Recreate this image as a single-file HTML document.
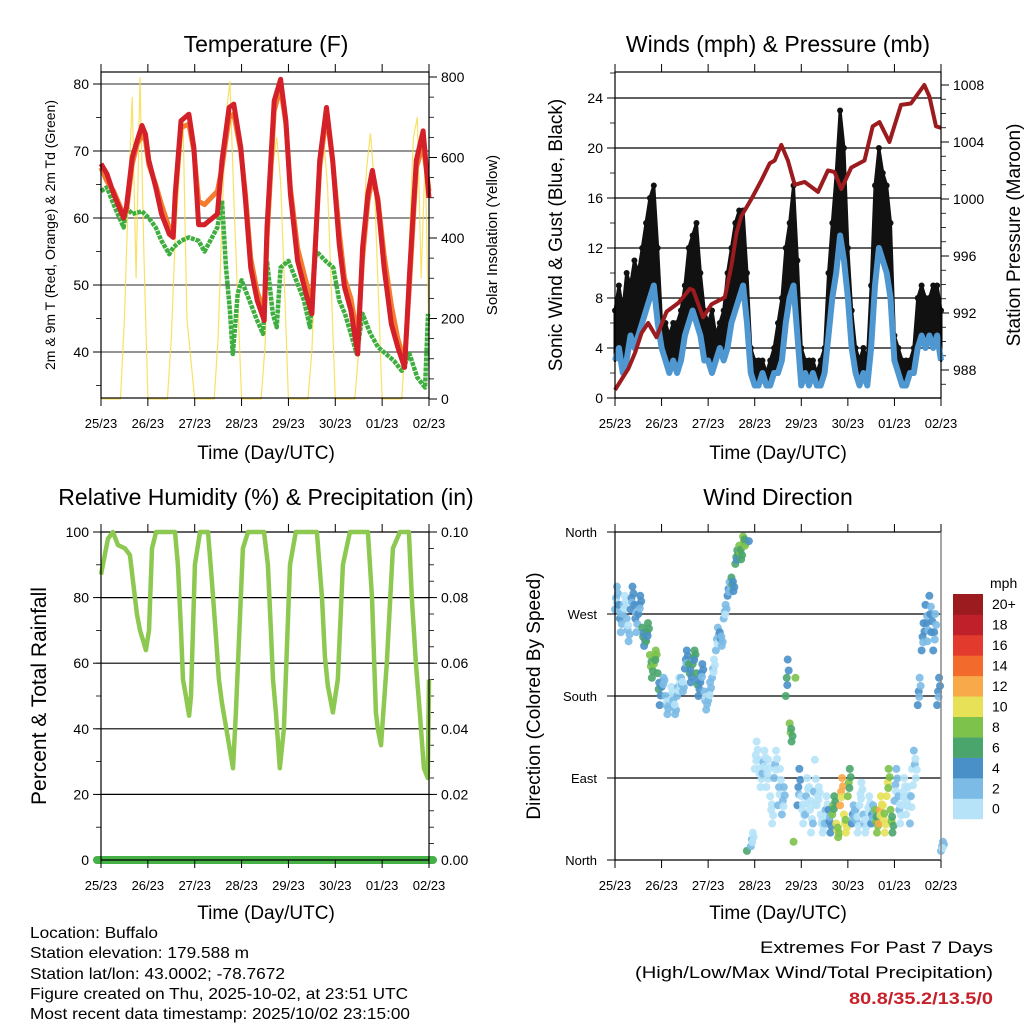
<!DOCTYPE html>
<html><head><meta charset="utf-8"><style>
html,body{margin:0;padding:0;background:#fff}
svg{display:block;font-family:"Liberation Sans",sans-serif}
</style></head><body>
<svg id="chart" width="1024" height="1024" viewBox="0 0 1024 1024">
<g id="static">
<text x="266" y="52" font-size="23" text-anchor="middle">Temperature (F)</text>
<text x="778" y="52" font-size="23" text-anchor="middle">Winds (mph) &amp; Pressure (mb)</text>
<text x="266" y="505" font-size="23" text-anchor="middle">Relative Humidity (%) &amp; Precipitation (in)</text>
<text x="778" y="505" font-size="23" text-anchor="middle">Wind Direction</text>
<text x="266" y="459" font-size="19" text-anchor="middle">Time (Day/UTC)</text>
<text x="778" y="459" font-size="19" text-anchor="middle">Time (Day/UTC)</text>
<text x="266" y="919" font-size="19" text-anchor="middle">Time (Day/UTC)</text>
<text x="778" y="919" font-size="19" text-anchor="middle">Time (Day/UTC)</text>
<text transform="translate(55,235) rotate(-90)" font-size="14" text-anchor="middle">2m &amp; 9m T (Red, Orange) &amp; 2m Td (Green)</text>
<text transform="translate(497,235) rotate(-90)" font-size="15" text-anchor="middle">Solar Insolation (Yellow)</text>
<text transform="translate(562,235) rotate(-90)" font-size="19" text-anchor="middle">Sonic Wind &amp; Gust (Blue, Black)</text>
<text transform="translate(1020,235) rotate(-90)" font-size="19" text-anchor="middle">Station Pressure (Maroon)</text>
<text transform="translate(46,696) rotate(-90)" font-size="21" text-anchor="middle">Percent &amp; Total Rainfall</text>
<text transform="translate(540,696) rotate(-90)" font-size="19" text-anchor="middle">Direction (Colored By Speed)</text>
<text x="990" y="588" font-size="14">mph</text>
<g font-size="16">
<text x="30" y="938" textLength="128" lengthAdjust="spacingAndGlyphs">Location: Buffalo</text>
<text x="30" y="958" textLength="219" lengthAdjust="spacingAndGlyphs">Station elevation: 179.588 m</text>
<text x="30" y="979" textLength="255" lengthAdjust="spacingAndGlyphs">Station lat/lon: 43.0002; -78.7672</text>
<text x="30" y="999" textLength="378" lengthAdjust="spacingAndGlyphs">Figure created on Thu, 2025-10-02, at 23:51 UTC</text>
<text x="30" y="1019" textLength="380" lengthAdjust="spacingAndGlyphs">Most recent data timestamp: 2025/10/02 23:15:00</text>
</g>
<text x="760" y="953" font-size="17" textLength="233" lengthAdjust="spacingAndGlyphs">Extremes For Past 7 Days</text>
<text x="635" y="978" font-size="17" textLength="358" lengthAdjust="spacingAndGlyphs">(High/Low/Max Wind/Total Precipitation)</text>
<text x="849" y="1004" font-size="17" font-weight="bold" fill="#c8202a" textLength="144" lengthAdjust="spacingAndGlyphs">80.8/35.2/13.5/0</text>
</g>
</svg>
<script>
// ---------- data ----------
const dayLabels = ["25/23","26/23","27/23","28/23","29/23","30/23","01/23","02/23"];
const tempHours = [0,3,6.5,11.6,13,16,18.5,21,22.8,24.5,28,31,35,37,38,41,45,47.6,50,53,59.6,62,65.6,68,71.6,74,76.7,80,83.6,85,88.7,92,94.7,97,100.7,105,108,112,115.5,118.7,122,124.7,128,131.5,134,136.7,139,141.8,145,148.7,152,155.5,158,161.5,165,168];
const temp9m = [68.1,66.6,63.6,60,61.6,69,71.5,73.8,72.5,68.6,64.6,60.6,57.6,57.1,63.6,74.5,75.5,70.5,59,59,60.6,68.6,76.5,77,70.5,62.6,52.6,47.7,44.7,58.6,77.5,80.7,74.5,63.6,53.6,48.7,45.7,68.6,76.5,68.6,56.1,49.7,46.2,39.7,55.6,63.6,67.1,62.6,52.6,44.2,40.7,37.7,51.6,68.6,73,63];
const temp2m = [67.5,65.5,64,60.5,61,68,71,72.5,71.5,68,65,62,58.5,58,63,73.5,74,70,62.5,62,64,67.5,75,75.5,70,63.5,54,49,46,57,76,79.5,74,64.5,55.5,50.5,47,67.5,75.5,68.5,58,51,48,42,54,62.5,66,63,54.5,47,42,38.5,50,67.5,71,64];
const dewHours = [0,3,6.5,11.6,13,16,21,24.5,28,31,35,37,41,45,50,53,59.6,62,64,66,67.5,70,72,76,80,83,85,88,90,92,96,100,104,107,110,115,119,122,125,128,131,134,138,142,146,150,154,158,162,166,167.5];
const dewPoint = [64,64.6,62,58.6,61.6,60.6,61,60,58.6,56.6,54.6,55.6,56.6,57.1,56.6,55,58.6,62.6,52.6,46.2,39.7,48.7,50.7,47.7,44.7,42.7,53.6,45.7,43.7,52.6,53.6,50.7,47.7,43.7,55.1,53.6,52.6,47.7,45.7,42.7,39.7,45.7,42.7,40.7,39.7,38.7,37.2,39.7,36.2,34.7,45.7];
const solar2h = [0,0,0,0,0,0,200,500,750,300,800,350,0, 0,0,0,0,0,150,400,550,700,200,100,0, 0,0,0,0,0,150,450,700,790,500,250,0, 0,0,0,0,0,130,400,580,650,540,280,0, 0,0,0,0,0,120,380,560,650,530,270,0, 0,0,0,0,0,120,380,570,660,540,270,0, 0,0,0,0,0,150,400,650,700,300,600,150];
const wind2h = [3,4,2,3,5,4,5,6,7,8,9,6,4,3,2,3,2,3,5,6,7,6,5,3,3,2,3,4,3,4,6,7,8,9,6,2,1,1,2,1,1,2,2,3,6,8,9,5,1,2,1,2,1,1,2,5,8,10,13,11,8,4,2,1,2,1,4,9,12,11,10,8,3,2,1,1,2,2,4,5,4,5,4,5,3];
const gust2h = [7,9,7,10,9,11,10,12,14,16,17,12,6,6,5,6,6,7,9,12,13,14,10,7,6,7,5,6,7,10,12,14,15,15,10,4,3,3,3,2,3,4,6,8,12,14,17,11,4,3,3,3,2,3,4,10,14,18,23,20,12,7,4,3,4,3,9,17,20,18,17,14,5,4,3,3,3,4,8,9,8,8,9,9,7];
const pressHours = [0,6.9,10.3,13.7,17.1,21.4,26.6,32.6,38.6,40.3,45.4,49.7,56.6,60,62.6,65.1,70.3,75.4,79.7,82.3,85.7,89.1,92.6,97.7,104.6,109.7,113.1,116.6,121.7,128.6,132.8,136.3,141.4,147.4,152.5,159.4,162,165.4,168];
const pressure = [986.6,988.1,989.2,990.6,991.3,990.3,992.1,992.7,993.7,993.6,991.7,992.6,993.1,995.3,997.6,998.8,1000,1001.3,1002.5,1002.7,1003.8,1002.7,1001,1001.2,1000.5,1002,1001.9,1000.7,1002.2,1002.7,1005.1,1005.4,1004,1006.6,1006.7,1008,1007.2,1005.1,1005];
const rhHours = [0,3.6,6.1,8.7,12.3,14.8,16.4,18.4,20,21.5,23,24.6,26.1,28.2,37.9,39.4,41,42,43.5,45.1,46.1,48.1,50.7,54.8,56.8,58.9,60.4,61.9,67.6,69.1,72.7,75.3,83.5,85.5,87,88.1,89.6,91.6,93.7,96.8,99.8,110.6,113.2,114.7,116.2,118.8,121.3,123.9,127.5,136.7,138.8,140.8,141.8,143.4,146.4,149.5,153.1,157.7,159.2,161.3,163.3,165.4,167.4,168];
const rhValues = [87,98,100,96,95,93,85,75,70,67,64,70,95,100,100,90,70,55,50,44,50,90,100,100,85,68,55,48,28,45,95,100,100,90,70,55,45,28,40,90,100,100,80,62,53,45,55,90,100,100,80,45,40,35,60,95,100,100,80,60,45,28,25,55];
const precipTotal = [0,0];
const dirA = [275,280,270,265,275,280,270,255,240,225,215,205,190,180,170,175,180,200,210,215,215,205,195,185,175,200,230,250,265,290,310,325,345,355,10,15,100,110,95,80,70,90,60,50,180,150,20,60,70,50,80,40,60,50,40,55,50,40,60,50,70,40,55,60,50,45,40,55,40,60,70,55,65,70,60,50,40,120,170,230,280,290,230,170,10];
const dirB = [300,250,290,240,300,250,290,235,260,200,230,170,200,160,190,160,200,185,230,195,230,180,215,165,195,220,255,235,280,305,295,340,330,345,350,30,130,80,120,110,40,120,100,80,220,130,200,100,40,90,30,110,80,30,70,30,70,25,90,30,100,60,30,85,30,70,60,30,70,30,100,30,100,40,90,80,100,90,200,260,240,250,270,200,20];
const speedBins = ["0","2","4","6","8","10","12","14","16","18","20+"];
const speedColors = ["#b7e3f8","#7cbbe6","#4a90c8","#4aa56d","#7dc24b","#e6e157","#f8a94a","#f26b2d","#e23a2c","#c0202a","#9b1b1e"];

// ---------- helpers ----------
const NS = "http://www.w3.org/2000/svg";
const svg = document.getElementById("chart");
function mk(tag, attrs, parent) {
  const el = document.createElementNS(NS, tag);
  for (const k in attrs) el.setAttribute(k, attrs[k]);
  (parent || svg).appendChild(el);
  return el;
}
function grp(name) {
  const g = mk("g", {});
  
  
  return g;
}
function txt(g, x, y, s, size, anchor) {
  const t = mk("text", {x: x, y: y, "font-size": size, "text-anchor": anchor}, g);
  t.textContent = s;
  return t;
}
function pathFrom(xs, ys) {
  return xs.map((x, i) => (i ? "L" : "M") + x.toFixed(1) + " " + ys[i].toFixed(1)).join(" ");
}

// axis functions
const L = {x0: 101, x1: 429}, R = {x0: 615, x1: 941};
const xL = h => L.x0 + h * (L.x1 - L.x0) / 168;
const xR = h => R.x0 + h * (R.x1 - R.x0) / 168;
const yTemp = t => 84 + (80 - t) * 6.7;
const ySolar = v => 399 - v * 0.4025;
const yWind = v => 398 - v * 12.5;
const yPress = p => 85 + (1008 - p) * 14.25;
const yRH = v => 860 - v * 3.28;
const yPrecip = v => 860 - v * 3280;
const yDir = d => 860 - d * 328 / 360;
const hours2 = solar2h.map((v, i) => i * 2);

function xAxis(name, X, y0, y1) {
  const g = grp(name);
  dayLabels.forEach((lab, i) => {
    const x = X(i * 24);
    mk("line", {x1: x, y1: y1, x2: x, y2: y1 + 8, stroke: "#000", "stroke-width": 1}, g);
    mk("line", {x1: x, y1: y0, x2: x, y2: y0 - 8, stroke: "#000", "stroke-width": 1}, g);
    const t = txt(g, x, y1 + 30, lab, 13, "middle");
    
    
  });
}
function frame(name, x0, x1, y0, y1) {
  const r = mk("rect", {x: x0, y: y0, width: x1 - x0, height: y1 - y0, fill: "none", stroke: "#000", "stroke-width": 1.2});
  
  
}
function yTicks(name, side, xEdge, vals, Y, labelFn, minors, gridX0, gridX1, gridColor) {
  const g = grp(name);
  const dir = side === "left" ? -1 : 1;
  minors.forEach(v => mk("line", {x1: xEdge, y1: Y(v), x2: xEdge + dir * 5, y2: Y(v), stroke: "#000", "stroke-width": 0.8}, g));
  vals.forEach(v => {
    const y = Y(v);
    mk("line", {x1: xEdge, y1: y, x2: xEdge + dir * 8, y2: y, stroke: "#000", "stroke-width": 1}, g);
    if (gridColor) mk("line", {x1: gridX0, y1: y, x2: gridX1, y2: y, stroke: gridColor, "stroke-width": 1.2}, g);
    const t = txt(g, xEdge + dir * 12, y + 5, labelFn(v), 14, side === "left" ? "end" : "start");
    
    
  });
}
const range = (a, b, s) => { const r = []; for (let v = a; v <= b + 1e-9; v += s) r.push(+v.toFixed(4)); return r; };

// ---------- Panel 1: temperature ----------
yTicks("temp-y-axis", "left", L.x0, [40,50,60,70,80], yTemp, v => String(v), [35,45,55,65,75], L.x0, L.x1, "#555");
yTicks("solar-y-axis", "right", L.x1, [0,200,400,600,800], ySolar, v => String(v), range(0,800,50), 0, 0, null);
{
  const g = grp("solar-series");
  const p = mk("path", {d: pathFrom(hours2.map(xL), solar2h.map(ySolar)), fill: "none", stroke: "#f7dc4a", "stroke-width": 1.2, opacity: 0.85}, g);
  
  
}
{
  const g = grp("dewpoint-series");
  const p = mk("path", {d: pathFrom(dewHours.map(xL), dewPoint.map(yTemp)), fill: "none", stroke: "#3eae3e", "stroke-width": 4.5, "stroke-dasharray": "4 1", "stroke-linejoin": "round"}, g);
  
  
}
{
  const g = grp("temp-2m-series");
  const p = mk("path", {d: pathFrom(tempHours.map(xL), temp2m.map(yTemp)), fill: "none", stroke: "#f47c30", "stroke-width": 5, "stroke-linejoin": "round"}, g);
  
  
}
{
  const g = grp("temp-9m-series");
  const p = mk("path", {d: pathFrom(tempHours.map(xL), temp9m.map(yTemp)), fill: "none", stroke: "#d42028", "stroke-width": 5, "stroke-linejoin": "round"}, g);
  
  
}
frame("temp-plot-frame", L.x0, L.x1, 72, 398);
xAxis("temp-x-axis", xL, 72, 398);

// ---------- Panel 2: winds ----------
yTicks("wind-y-axis", "left", R.x0, [0,4,8,12,16,20,24], yWind, v => String(v), range(0,26,2), R.x0, R.x1, "#000");
yTicks("pressure-y-axis", "right", R.x1, [988,992,996,1000,1004,1008], yPress, v => String(v), range(987,1008,1), 0, 0, null);
{
  const g = grp("gust-series");
  const top = pathFrom(hours2.map(xR), gust2h.map(yWind));
  const back = hours2.slice().reverse().map((h, j) => "L" + xR(h).toFixed(1) + " " + yWind(wind2h[wind2h.length - 1 - j]).toFixed(1)).join(" ");
  const area = mk("path", {d: top + " " + back + " Z", fill: "#111", stroke: "#111", "stroke-width": 3, "stroke-linejoin": "round"}, g);
  
  
  gust2h.forEach((v, i) => {
    const c = mk("circle", {cx: xR(hours2[i]), cy: yWind(v), r: 3, fill: "#111"}, g);
    
    
  });
}
{
  const g = grp("wind-series");
  const p = mk("path", {d: pathFrom(hours2.map(xR), wind2h.map(yWind)), fill: "none", stroke: "#4f97d0", "stroke-width": 6, "stroke-linejoin": "round"}, g);
  
  
}
{
  const g = grp("pressure-series");
  const p = mk("path", {d: pathFrom(pressHours.map(xR), pressure.map(yPress)), fill: "none", stroke: "#9b1b1e", "stroke-width": 4, "stroke-linejoin": "round"}, g);
  
  
}
frame("wind-plot-frame", R.x0, R.x1, 72, 398);
xAxis("wind-x-axis", xR, 72, 398);

// ---------- Panel 3: RH ----------
yTicks("rh-y-axis", "left", L.x0, [0,20,40,60,80,100], yRH, v => String(v), range(0,100,10), L.x0, L.x1, "#000");
yTicks("precip-y-axis", "right", L.x1, [0,0.02,0.04,0.06,0.08,0.10], yPrecip, v => v.toFixed(2), range(0,0.1,0.005), 0, 0, null);
{
  const g = grp("rh-series");
  const p = mk("path", {d: pathFrom(rhHours.map(xL), rhValues.map(yRH)), fill: "none", stroke: "#8dc850", "stroke-width": 4.5, "stroke-linejoin": "round"}, g);
  
  
}
{
  const g = grp("precip-series");
  const p = mk("line", {x1: xL(0) - 4, y1: yPrecip(precipTotal[0]), x2: xL(168) + 4, y2: yPrecip(precipTotal[1]), stroke: "#45b045", "stroke-width": 8, "stroke-linecap": "round"}, g);
  
  
}
mk("line", {x1: L.x0, y1: 532, x2: L.x0, y2: 860, stroke: "#000", "stroke-width": 1.2});
mk("line", {x1: L.x1, y1: 532, x2: L.x1, y2: 860, stroke: "#000", "stroke-width": 1.2});
mk("line", {x1: L.x0, y1: 860, x2: L.x1, y2: 860, stroke: "#000", "stroke-width": 1.2});
xAxis("rh-x-axis", xL, 532, 860);

// ---------- Panel 4: wind direction ----------
{
  const g = grp("dir-y-axis");
  const names = ["North","East","South","West","North"];
  [0,90,180,270,360].forEach((d, i) => {
    const y = yDir(d);
    mk("line", {x1: R.x0, y1: y, x2: R.x1, y2: y, stroke: "#000", "stroke-width": 1.2}, g);
    mk("line", {x1: R.x0, y1: y, x2: R.x0 - 8, y2: y, stroke: "#000", "stroke-width": 1}, g);
    const t = txt(g, R.x0 - 18, y + 5, names[i], 13, "end");
    
    
  });
}
{
  const g = grp("direction-points");
  const colorFor = s => speedColors[Math.max(0, Math.min(10, Math.floor(s / 2)))];
  function dot(h, d, s) {
    const c = mk("circle", {cx: xR(h), cy: yDir(d), r: 4, fill: colorFor(s), opacity: 0.9}, g);
    
    
  }
  dirA.forEach((d, i) => {
    const b = dirB[i];
    dot(hours2[i], d, wind2h[i]);
    dot(hours2[i] + 1, b, wind2h[i] - 1);
    if (Math.abs(d - b) < 180) {
      dot(hours2[i] + 0.5, (d + b) / 2, wind2h[i]);
      dot(hours2[i] + 1.5, (d * 0.3 + b * 0.7), wind2h[i] - 1);
      dot(hours2[i] + 0.8, (d * 0.7 + b * 0.3), wind2h[i] - 2);
    }
  });
}
mk("line", {x1: R.x0, y1: 532, x2: R.x0, y2: 860, stroke: "#000", "stroke-width": 1.2});
mk("line", {x1: R.x1, y1: 532, x2: R.x1, y2: 860, stroke: "#888", "stroke-width": 1.5});
xAxis("dir-x-axis", xR, 532, 860);

// colorbar
{
  const g = grp("speed-colorbar");
  const h = 20.45;
  speedBins.forEach((lab, i) => {
    const j = speedBins.length - 1 - i;
    const r = mk("rect", {x: 953, y: 594 + j * h, width: 30, height: h + 0.3, fill: speedColors[i]}, g);
    
    
    const t = txt(g, 992, 594 + j * h + h / 2 + 5, lab, 14, "start");
    
    
  });
}
</script>
</body></html>
